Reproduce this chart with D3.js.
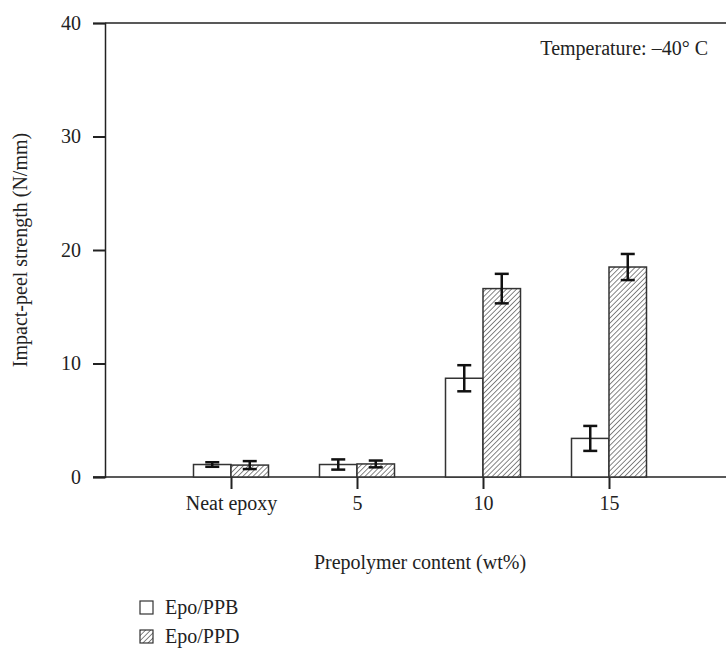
<!DOCTYPE html>
<html>
<head>
<meta charset="utf-8">
<script src="https://cdn.jsdelivr.net/npm/d3@7"></script>
<style>
  html, body { margin: 0; padding: 0; background: #fff; }
  svg { display: block; }
  text { font-family: "Liberation Serif", "DejaVu Serif", serif; fill: #222; }
</style>
</head>
<body>
<svg id="chart" width="726" height="648"></svg>
<script>
// Impact-peel strength at -40 °C for two prepolymer systems
const categories = ["Neat epoxy", "5", "10", "15"];
const seriesNames = ["Epo/PPB", "Epo/PPD"];
const ppbValues = [1.1, 1.1, 8.7, 3.4];
const ppbErrors = [0.2, 0.45, 1.15, 1.1];
const ppdValues = [1.05, 1.15, 16.6, 18.5];
const ppdErrors = [0.35, 0.3, 1.3, 1.15];
const yTicks = [0, 10, 20, 30, 40];

const fontSize = "20px";
const svg = d3.select("#chart");
const margin = { left: 105, top: 23 };
const plotW = 630, plotH = 454;

const defs = svg.append("defs");
const pat = defs.append("pattern")
  .attr("id", "hatch")
  .attr("patternUnits", "userSpaceOnUse")
  .attr("width", 3.6).attr("height", 3.6)
  .attr("patternTransform", "rotate(45)");
pat.append("rect").attr("width", 3.6).attr("height", 3.6).attr("fill", "#fff");
pat.append("line").attr("x1", 0).attr("y1", 0).attr("x2", 0).attr("y2", 3.6)
  .attr("stroke", "#444").attr("stroke-width", 1.3);

const g = svg.append("g").attr("transform", `translate(${margin.left},${margin.top})`);

const x = d3.scalePoint().domain(categories).range([0, plotW]).padding(1);
const y = d3.scaleLinear().domain([0, 40]).range([plotH, 0]);
const barW = 37.5;

// top border line
g.append("line").attr("x1", 0).attr("x2", 726 - margin.left)
  .attr("y1", 0).attr("y2", 0).attr("stroke", "#222").attr("stroke-width", 1.5);

// y axis
const yAxis = g.append("g").call(d3.axisLeft(y).tickValues(yTicks).tickSize(12).tickPadding(12));
yAxis.select(".domain").attr("stroke", "#222").attr("stroke-width", 1.5);
yAxis.selectAll(".tick line").attr("stroke", "#222").attr("stroke-width", 2);
yAxis.selectAll("text").style("font-size", fontSize).attr("fill", "#222")
  .style("font-family", "'Liberation Serif', serif");

// x axis
const xAxis = g.append("g").attr("transform", `translate(0,${plotH})`)
  .call(d3.axisBottom(x).tickSize(12).tickPadding(7));
xAxis.select(".domain").attr("d", `M-12,0H${726 - margin.left}`)
  .attr("stroke", "#222").attr("stroke-width", 1.5);
xAxis.selectAll(".tick line").attr("stroke", "#222").attr("stroke-width", 2);
xAxis.selectAll("text").style("font-size", fontSize).attr("fill", "#222")
  .style("font-family", "'Liberation Serif', serif");

const series = [
  { name: seriesNames[0], values: ppbValues, errors: ppbErrors, fill: "#fff", offset: -barW },
  { name: seriesNames[1], values: ppdValues, errors: ppdErrors, fill: "url(#hatch)", offset: 0 }
];

series.forEach(s => {
  const data = categories.map((c, i) => ({ c, v: s.values[i], e: s.errors[i] }));
  g.append("g").selectAll("rect").data(data).join("rect")
    .attr("x", d => x(d.c) + s.offset)
    .attr("y", d => y(d.v))
    .attr("width", barW)
    .attr("height", d => y(0) - y(d.v))
    .attr("fill", s.fill)
    .attr("stroke", "#333").attr("stroke-width", 1.5);

  const eb = g.append("g").attr("stroke", "#111").attr("stroke-width", 2.5);
  data.forEach(d => {
    const cx = x(d.c) + s.offset + barW / 2;
    eb.append("line").attr("x1", cx).attr("x2", cx).attr("y1", y(d.v + d.e)).attr("y2", y(d.v - d.e));
    eb.append("line").attr("x1", cx - 7).attr("x2", cx + 7).attr("y1", y(d.v + d.e)).attr("y2", y(d.v + d.e));
    eb.append("line").attr("x1", cx - 7).attr("x2", cx + 7).attr("y1", y(d.v - d.e)).attr("y2", y(d.v - d.e));
  });
});

// annotation
g.append("text").attr("x", 603).attr("y", 32).attr("text-anchor", "end")
  .style("font-size", fontSize).text("Temperature: \u201340\u00b0 C");

// axis titles
svg.append("text").attr("x", 420).attr("y", 569).attr("text-anchor", "middle")
  .style("font-size", fontSize).text("Prepolymer content (wt%)");
svg.append("text").attr("transform", `translate(27,${margin.top + plotH / 2}) rotate(-90)`)
  .attr("text-anchor", "middle").style("font-size", fontSize).text("Impact-peel strength (N/mm)");

// legend
const legend = svg.append("g").attr("transform", "translate(140,601)");
series.forEach((s, i) => {
  const row = legend.append("g").attr("transform", `translate(0,${i * 29})`);
  row.append("rect").attr("width", 13).attr("height", 13)
    .attr("fill", s.fill).attr("stroke", "#333").attr("stroke-width", 1.2);
  row.append("text").attr("x", 25).attr("y", 13).style("font-size", fontSize).text(s.name);
});
</script>
</body>
</html>
